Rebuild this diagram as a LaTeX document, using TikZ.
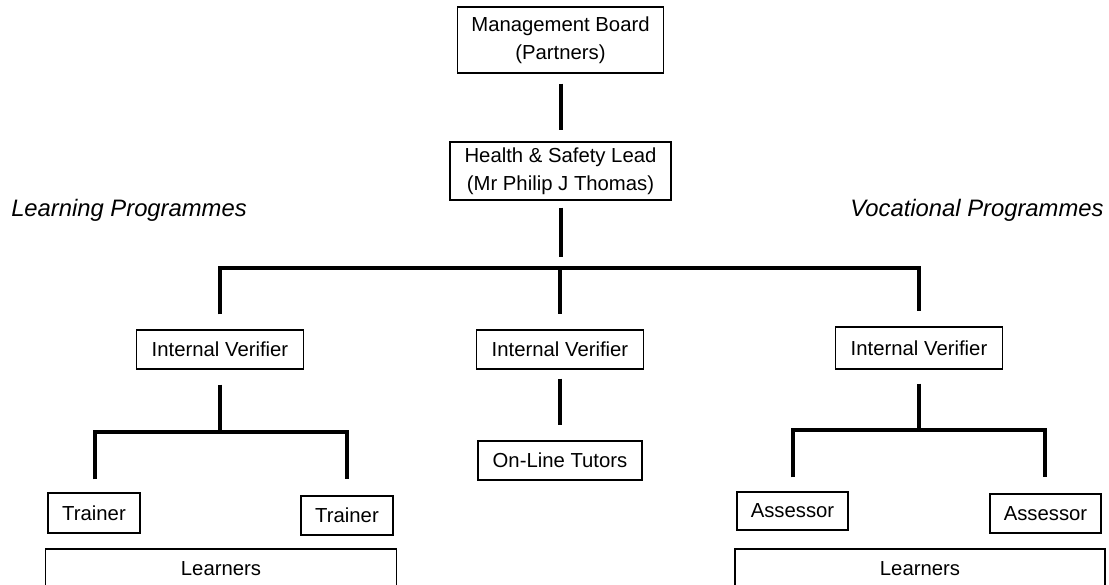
\documentclass[tikz,border=0pt]{standalone}
\usepackage{fontspec}
\setmainfont{Liberation Sans}
\tikzset{
  post/.style={draw,line width=1.3pt,inner sep=0pt,align=center,
    font=\fontsize{20.3}{27.5}\selectfont},
  link/.style={line width=4pt,line join=miter},
  prog/.style={font=\fontsize{23.8}{26}\selectfont\itshape}
}

\begin{document}
\begin{tikzpicture}[x=1pt,y=-1pt]
    \useasboundingbox (0,0) rectangle (1109,584);
    % top of the chart
    \node[post,minimum width=206pt,minimum height=66pt] (board) at (560.5,40) {Management Board\\(Partners)};
    \node[post,minimum width=221pt,minimum height=58pt] (lead) at (560.5,171) {Health \& Safety Lead\\(Mr Philip J Thomas)};
    \node[prog] (learnprog) at (129,210) {Learning Programmes};
    \node[prog] (vocprog) at (977,210) {Vocational Programmes};
    % verifiers
    \node[post,minimum width=167pt,minimum height=39pt] (ivL) at (220,349.5) {Internal Verifier};
    \node[post,minimum width=167pt,minimum height=39pt] (ivM) at (560,349.5) {Internal Verifier};
    \node[post,minimum width=167pt,minimum height=42pt] (ivR) at (919,348) {Internal Verifier};
    % bottom row
    \node[post,minimum width=92pt,minimum height=40pt] (trL) at (94,513) {Trainer};
    \node[post,minimum width=92pt,minimum height=39pt] (trR) at (347,515.5) {Trainer};
    \node[post,minimum width=164pt,minimum height=39pt] (tutors) at (560,460.5) {On-Line Tutors};
    \node[post,minimum width=111pt,minimum height=38pt] (asL) at (792.5,511) {Assessor};
    \node[post,minimum width=111pt,minimum height=39pt] (asR) at (1045.5,513.5) {Assessor};
    \node[post,minimum width=351pt,minimum height=40pt] (learnL) at (221,569) {Learners};
    \node[post,minimum width=370pt,minimum height=40pt] (learnR) at (920,569) {Learners};
    % branch points
    \coordinate (bus) at (560,268);
    \coordinate (brL) at (220,432);
    \coordinate (brR) at (919,430);
    % connectors
    \draw[link,shorten <=10pt,shorten >=11pt] (board.south) -- (lead.north);
    \draw[link,shorten <=7pt,shorten >=11pt] (lead.south) -- (lead.south |- bus);
    \draw[link] ([yshift=15pt]ivL.north) -- (ivL.north |- bus) -- (ivR.north |- bus) -- ([yshift=15pt]ivR.north);
    \draw[link] (bus) -- ([yshift=15pt]ivM.north);
    \draw[link] ([yshift=-15pt]ivL.south) -- (brL);
    \draw[link] ([xshift=1pt,yshift=13pt]trL.north) |- (brL) -| ([yshift=16pt]trR.north);
    \draw[link,shorten <=9pt,shorten >=15pt] (ivM.south) -- (tutors.north);
    \draw[link] ([yshift=-14pt]ivR.south) -- (brR);
    \draw[link] ([yshift=14pt]asL.north) |- (brR) -| ([xshift=-0.5pt,yshift=16.5pt]asR.north);
\end{tikzpicture}
\end{document}
